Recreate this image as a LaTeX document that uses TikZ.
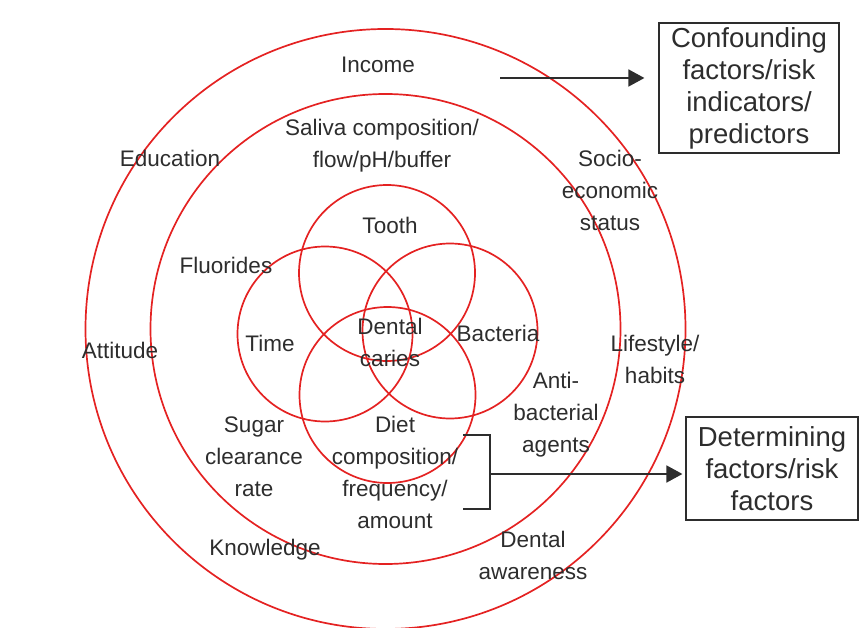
\documentclass[tikz,border=0pt]{standalone}
\usepackage{fontspec}
\setmainfont{Liberation Sans}
\usetikzlibrary{arrows.meta}
\definecolor{ringred}{RGB}{228,34,34}
\definecolor{ink}{RGB}{45,45,45}
\tikzset{
  ring/.style={circle, draw=ringred, line width=1.7pt, inner sep=0pt},
  lbl/.style={text=ink, align=center, inner sep=0pt, font=\fontsize{22.5}{32}\selectfont},
  boxlbl/.style={draw=ink, line width=1.2pt, text=ink, align=center, inner sep=0pt, font=\fontsize{27.5}{32}\selectfont},
  arr/.style={draw=ink, line width=1.8pt, -{Triangle[length=16pt,width=17pt]}},
  brk/.style={draw=ink, line width=1.8pt}
}
\begin{document}
\begin{tikzpicture}[x=1pt,y=-1pt]
\useasboundingbox (0,0) rectangle (861,628);
% concentric rings
\node[ring, minimum size=600pt] (outer) at (385.5,329) {};
\node[ring, minimum size=470pt] (middle) at (385.5,329) {};
% inner four circles
\node[ring, minimum size=176pt] (ctooth) at (387,273) {};
\node[ring, minimum size=175pt] (ctime) at (325,334) {};
\node[ring, minimum size=175pt] (cbact) at (450,331) {};
\node[ring, minimum size=176pt] (cdiet) at (387.5,395) {};
% labels
\node[lbl] (income) at (378,65) {Income};
\node[lbl] (saliva) at (382,146) {Saliva composition/\\flow/pH/buffer};
\node[lbl] (education) at (170,158) {Education};
\node[lbl] (socio) at (610,190) {Socio-\\economic\\status};
\node[lbl] (tooth) at (390,225) {Tooth};
\node[lbl] (fluorides) at (226,265) {Fluorides};
\node[lbl] (time) at (270,343) {Time};
\node[lbl] (caries) at (390,342) {Dental\\caries};
\node[lbl] (bacteria) at (498,333) {Bacteria};
\node[lbl] (attitude) at (120,350) {Attitude};
\node[lbl] (lifestyle) at (655,359) {Lifestyle/\\habits};
\node[lbl] (anti) at (556,415) {Anti-\\bacterial\\agents};
\node[lbl] (sugar) at (254,457) {Sugar\\clearance\\rate};
\node[lbl] (diet) at (395,472) {Diet\\composition/\\frequency/\\amount};
\node[lbl] (knowledge) at (265,550) {Knowledge};
\node[lbl] (awareness) at (533,555) {Dental\\awareness};
% boxes
\node[boxlbl, minimum width=180pt, minimum height=130pt] (box1) at (749,88) {Confounding\\factors/risk\\indicators/\\predictors};
\node[boxlbl, minimum width=172pt, minimum height=103pt] (box2) at (772,468.5) {Determining\\factors/risk\\factors};
% connectors
\coordinate (a1s) at (500,78);
\draw[arr, shorten >=14pt] (a1s) -- (box1.west |- a1s);
\coordinate (brt) at (463,435);
\coordinate (brb) at (463,509);
\coordinate (brm) at (490,474);
\draw[brk] (brt) -- (brm |- brt) -- (brm |- brb) -- (brb);
\draw[arr, shorten >=3pt] (brm) -- (box2.west |- brm);
\end{tikzpicture}
\end{document}
